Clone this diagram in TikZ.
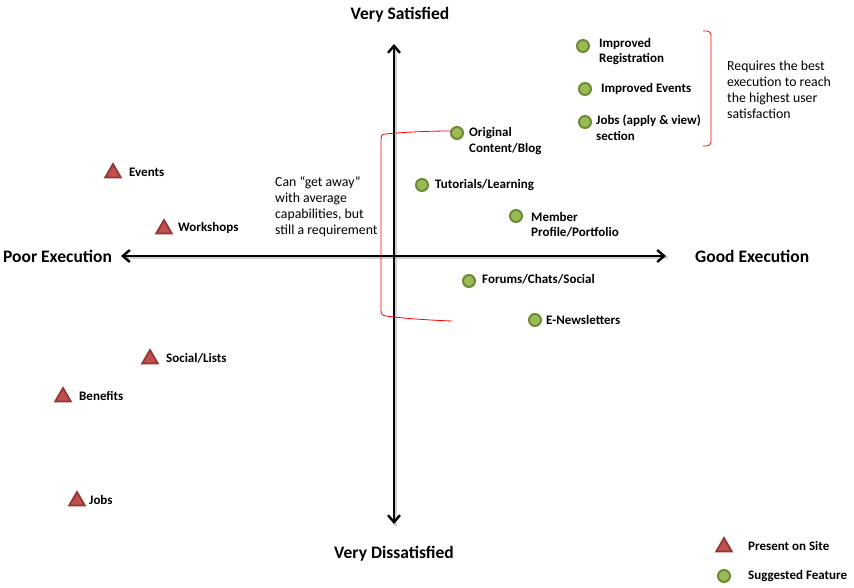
\documentclass[tikz,border=0pt]{standalone}
\usepackage{fontspec}
\setmainfont{Carlito}
\usetikzlibrary{arrows.meta,shapes.geometric}
\definecolor{featfill}{HTML}{9BBB59}
\definecolor{featdraw}{HTML}{6F8A35}
\definecolor{presfill}{HTML}{C0504D}
\definecolor{presdraw}{HTML}{943634}
\begin{document}
\begin{tikzpicture}[x=1pt,y=-1pt,
  feat/.style={circle,fill=featfill,draw=featdraw,line width=2pt,inner sep=0pt,minimum size=12pt},
  pres/.style={regular polygon,regular polygon sides=3,fill=presfill,draw=presdraw,line width=1.8pt,inner sep=0pt,minimum size=18pt},
  lbl/.style={font=\fontsize{13}{15.5}\selectfont\bfseries,anchor=west,align=left,inner sep=0pt},
  note/.style={font=\fontsize{13.8}{16}\selectfont,anchor=west,align=left,inner sep=0pt},
  head/.style={font=\fontsize{17.5}{20}\selectfont\bfseries,inner sep=0pt},
  axis/.style={line width=2.8pt,{Straight Barb[length=7pt,width=12pt,line width=2.4pt]}-{Straight Barb[length=7pt,width=12pt,line width=2.4pt]}},
  shadowax/.style={line width=2.8pt,draw=black!35,opacity=0.5},
  brk/.style={draw=red,line width=0.8pt}]
\useasboundingbox (0,0) rectangle (854,587);
% axes
\coordinate (top) at (394,44);
\coordinate (bot) at (394,524);
\coordinate (lft) at (121,256);
\coordinate (rgt) at (666,256);
\draw[shadowax] ([shift={(1.5,1.8)}]top) -- ([shift={(1.5,1.8)}]bot);
\draw[shadowax] ([shift={(1.5,1.8)}]lft) -- ([shift={(1.5,1.8)}]rgt);
\draw[axis] (top) -- (bot);
\draw[axis] (lft) -- (rgt);
% headings
\node[head] (vs) at (400,15) {Very Satisfied};
\node[head] (vd) at (394,554) {Very Dissatisfied};
\node[head,anchor=west] (pe) at (3,256) {Poor Execution};
\node[head,anchor=west] (ge) at (695,256) {Good Execution};
% suggested features
\node[feat] (f1) at (583,46) {};
\node[lbl] (t1) at (599,51.5) {Improved\\Registration};
\node[feat] (f2) at (585,89) {};
\node[lbl] (t2) at (601,89) {Improved Events};
\node[feat] (f3) at (585,122) {};
\node[lbl] (t3) at (596,127.5) {Jobs (apply \& view)\\section};
\node[feat] (f4) at (457,133) {};
\node[lbl] (t4) at (469,141) {Original\\Content/Blog};
\node[feat] (f5) at (422,185) {};
\node[lbl] (t5) at (435,185) {Tutorials/Learning};
\node[feat] (f6) at (516,216) {};
\node[lbl] (t6) at (531,224.5) {Member\\Profile/Portfolio};
\node[feat] (f7) at (469,281) {};
\node[lbl] (t7) at (482,279) {Forums/Chats/Social};
\node[feat] (f8) at (535,320) {};
\node[lbl] (t8) at (546,320) {E-Newsletters};
% present on site
\node[pres] (p1) at (113,173) {};
\node[lbl] (q1) at (129,172) {Events};
\node[pres] (p2) at (164,229) {};
\node[lbl] (q2) at (178,228) {Workshops};
\node[pres] (p3) at (150,359) {};
\node[lbl] (q3) at (166,358) {Social/Lists};
\node[pres] (p4) at (63,397) {};
\node[lbl] (q4) at (79,396) {Benefits};
\node[pres] (p5) at (77,501) {};
\node[lbl] (q5) at (89,500) {Jobs};
% notes
\node[note] (n1) at (727,90) {Requires the best\\execution to reach\\the highest user\\satisfaction};
\node[note] (n2) at (275,207) {Can “get away”\\with average\\capabilities, but\\still a requirement};
% brackets
\draw[brk,rounded corners=4pt] (703,31) -- (711,31) -- (711,146) -- (703,146);
\coordinate (b1) at (452,131);
\coordinate (b2) at (452,321);
\draw[brk] (b1) .. controls (420,131) and (395,133) .. (385,134)
  .. controls (381,134.5) and (381,137) .. (381,140) -- (381,310)
  .. controls (381,314) and (382,315.5) .. (386,316)
  .. controls (400,318) and (425,320) .. (b2);
% legend
\node[pres] (lp) at (724,547) {};
\node[lbl] (lpt) at (748,546) {Present on Site};
\node[feat] (lf) at (724,576) {};
\node[lbl] (lft2) at (748,576) {Suggested Feature};
\end{tikzpicture}
\end{document}
